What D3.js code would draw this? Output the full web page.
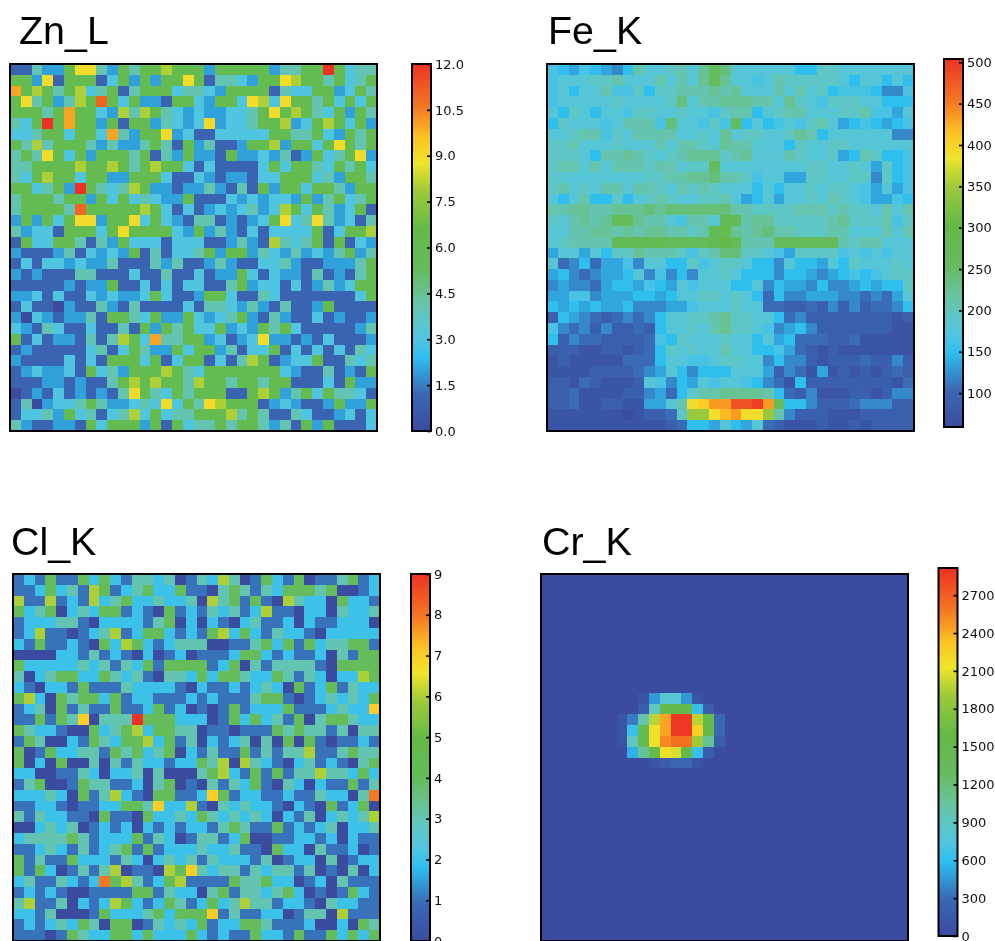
<!DOCTYPE html>
<html>
<head>
<meta charset="utf-8">
<script src="https://cdnjs.cloudflare.com/ajax/libs/d3/7.8.5/d3.min.js"></script>
<style>
html, body { margin: 0; padding: 0; background: #fff; overflow: hidden; }
svg { filter: blur(0.45px); }
.title { font-family: "Liberation Sans", Arial, sans-serif; font-size: 39.4px; fill: #000; }
.tick text { font-family: "DejaVu Sans", sans-serif; font-size: 13px; fill: #111; }
.tick line { stroke: #000; stroke-width: 1.6; }
</style>
</head>
<body>
<div id="chart"></div>
<script>
// one character per cell, rows top to bottom
// Zn_L and Cl_K: raw counts (a=10, b=11, c=12)
var znRows = [
"1142269942 6466866626 666624466c 6344",
"6629166613 6262669614 4326698664 6346",
"a686468346 1466634432 6666143366 2364",
"69462486b6 3622166326 6398396646 3636",
"66646a6632 8486432322 3346968643 6264",
"436c6a6626 1662432392 3346682368 6362",
"334663663a 4266923113 3333664463 2646",
"6484666424 2246416241 1266826636 9646",
"4649636266 6461426221 6223241263 4692",
"4466668668 6468663131 1113636643 6463",
"4368663662 2666311321 2213366634 2664",
"663462c643 4862212242 1416266366 4266",
"4666466263 6343226111 3232332624 6346",
"466664b666 6686313123 2342386364 2361",
"2626369926 6936321441 2123693494 2314",
"4233166636 9666632624 2131333361 3668",
"1633664142 6333133311 2421843461 6132",
"2111241323 2614133462 6624324232 4624",
"1313323224 1114241124 2113342112 2246",
"2121114411 1311411312 2631322141 2146",
"1111121226 1131313311 4623313124 2366",
"2231311323 2236311266 3114311111 1136",
"1311021142 1411113144 3242141126 1111",
"2032122416 6436226323 4621421131 2112",
"3214311311 4162646336 2326463111 1124",
"6131221414 863a446623 1239221213 1112",
"1211111341 3642263662 4133613131 3143",
"2111131316 6636136613 1486123361 1434",
"1232231634 2666864366 6666632114 1216",
"1112212114 6868664866 4664661113 1622",
"0121312121 4964364666 1168624636 4431",
"1402334642 2343936498 6661232112 6226",
"1334263413 4836344666 8464114311 2313",
"4211221636 6626163446 4664241626 1113"
];
var clRows = [
"1214114242 1332301326 3014214011 3412",
"1124231641 2342241103 4313244434 0012",
"6116121623 4223223063 4141063220 4221",
"4234023244 1210412132 3126110220 3223",
"1222331022 2213402021 0231120211 2220",
"1261101236 1244212146 2421322102 2222",
"2141121042 6421233300 1134241423 3441",
"0000221312 1020120111 2442121120 3144",
"4222223231 3241444412 4031333310 4444",
"3023442243 2310332424 4322431320 2264",
"2102214111 3222210211 2123204124 1322",
"4620434424 1221112121 1134410123 2324",
"1230413114 1124120101 4122241112 3227",
"1141437033 3944422201 4242314034 4322",
"4322100423 4624433011 0111434331 3033",
"1430021432 4462413021 2303040410 1121",
"4014223314 3423402131 1413133611 3433",
"4020400303 1322122436 0632102312 1034",
"2200113202 2303000346 2141413363 3242",
"1340014331 1203401031 3241032021 1413",
"2223204136 2104411274 1221121132 2038",
"1122101122 4437226103 2322102104 1240",
"3132211041 1042232432 3232021302 3236",
"0023230121 2021212213 4311412123 0223",
"2333343122 2413201331 2400112212 0211",
"1123213123 4141222322 3110422031 1201",
"4131142221 3202323132 2213012203 0122",
"4142013136 0110647323 3132331301 0302",
"2311321284 6312461111 4334220120 3111",
"1212100111 1441322034 1332342010 1421",
"3611302126 4212431242 3633122103 2211",
"2213000142 2234244471 3112201330 6111",
"1212324304 4013232412 2443111200 2043",
"1110143224 4242224212 1142214114 2424"
];
// Fe_K: base 36, in units of 15 counts
var feRows = [
"ba9ba98aec cdecfhgccc cccaaddccc cccc",
"bcccddeccc ececfhfccb cedddddcac caca",
"bcaccebbda ddeeefefcc cececdabbb a88b",
"bcccccdccc cdgceefffe ecfdcbdddc caaa",
"cadcaccbdd ccdccbdeea cdeecccdde bb9c",
"adcccbceee bgccbdbhac abcbdec9ab a9ab",
"ccdeebdcee eeccdcfcdd ccdfeacccc cc88",
"ddecccdccc eceedcfeec ccadccddcc cccc",
"dddcaeefed cdefffdefc ccedccd9ae daab",
"deececeeed eecddhcccc ccccddccdc 9dab",
"dccccccccd deeffgeedb cc99ddccdd 8dab",
"decdceecee dcededccca caccdcddcb 9c9b",
"caceaadacd edccddec9a c9ccdcedcb 99ba",
"eeffeefffg fggggggeed dddeeededd cece",
"dcefefhhfe ecbeeciief fdddddefdd debd",
"cceeffefef feedeijfef geedddeecc cece",
"cdeeeeiiii ihhhhikiee ehhhhhhede eccc",
"9cc9caddfe eedbdeggdd cb9ddddbcb cbcc",
"c78a799b8c caadbcddca a8caa9cadc ccdc",
"9a87899ac8 b8a8ccdcaa a8aa989aba bcdd",
"898879aa9b a9cbcccaac 8a998a889a 9aad",
"99bb8999aa 9accddcdca 7a88999887 879c",
"a9a9a99a88 899bcccdcc 7766768686 778a",
"6a98767878 accddefddc ca78666666 6656",
"b878686676 accdcefddc b89a866666 6655",
"a687766667 badcccdcca c9a7776675 5555",
"6665566567 adcdccecca ab97656555 5555",
"5655555777 accbbcddcc 8a88656667 6686",
"5555666678 9ca8aaaccc 9687595656 5676",
"665765556c b8a9cbccba 875a666666 6657",
"6675555668 97adeeffff ea76855566 5688",
"6675566559 9ceqrttwwx thaa866678 8866",
"5555555456 67dnnqstqq ne86665556 6666",
"5555555555 567aa9ca9c 7655565565 6666"
];
// Cr_K: base 36, in units of 90 counts
var crRows = [
"0000000000 0000000000 0000000000 0000",
"0000000000 0000000000 0000000000 0000",
"0000000000 0000000000 0000000000 0000",
"0000000000 0000000000 0000000000 0000",
"0000000000 0000000000 0000000000 0000",
"0000000000 0000000000 0000000000 0000",
"0000000000 0000000000 0000000000 0000",
"0000000000 0000000000 0000000000 0000",
"0000000000 0000000000 0000000000 0000",
"0000000000 0000000000 0000000000 0000",
"0000000000 0000000000 0000000000 0000",
"0000000001 5995100000 0000000000 0000",
"0000000002 ahhh720000 0000000000 0000",
"000000014b mrwwmh3000 0000000000 0000",
"000000017g orwwph3000 0000000000 0000",
"00000001ag osttlc2000 0000000000 0000",
"000000006c honh720000 0000000000 0000",
"0000000000 1233100000 0000000000 0000",
"0000000000 0000000000 0000000000 0000",
"0000000000 0000000000 0000000000 0000",
"0000000000 0000000000 0000000000 0000",
"0000000000 0000000000 0000000000 0000",
"0000000000 0000000000 0000000000 0000",
"0000000000 0000000000 0000000000 0000",
"0000000000 0000000000 0000000000 0000",
"0000000000 0000000000 0000000000 0000",
"0000000000 0000000000 0000000000 0000",
"0000000000 0000000000 0000000000 0000",
"0000000000 0000000000 0000000000 0000",
"0000000000 0000000000 0000000000 0000",
"0000000000 0000000000 0000000000 0000",
"0000000000 0000000000 0000000000 0000",
"0000000000 0000000000 0000000000 0000",
"0000000000 0000000000 0000000000 0000"
];

var znTicks = [0, 1.5, 3, 4.5, 6, 7.5, 9, 10.5, 12];
var feTicks = [100, 150, 200, 250, 300, 350, 400, 450, 500];
var clTicks = [0, 1, 2, 3, 4, 5, 6, 7, 8, 9];
var crTicks = [0, 300, 600, 900, 1200, 1500, 1800, 2100, 2400, 2700];

var width = 995, height = 941;
var nCells = 34;

// rainbow colormap
var cmapStops = [0, 0.1, 0.2, 0.25, 0.3, 0.36, 0.44, 0.55, 0.65, 0.73, 0.8, 0.88, 1];
var cmapColors = ["#3a4ba0", "#3a68b4", "#2cbef0", "#50c5e0", "#5dc6c8", "#68c3a0", "#64bc5c",
                  "#64ba45", "#9cc93a", "#efe52b", "#fdc324", "#f47b22", "#ee3124"];
var cmap = d3.scaleLinear().domain(cmapStops).range(cmapColors).interpolate(d3.interpolateRgb);

function decode(rows, unit) {
    return rows.map(function (r) {
        return r.replace(/ /g, "").split("").map(function (ch) {
            return parseInt(ch, 36) * unit;
        });
    });
}

var panels = [
    {name: "Zn_L", rows: decode(znRows, 1), domain: [0, 12], ticks: znTicks, fmt: d3.format(".1f"),
     x: 10, y: 64, barX: 412, barY: 64, barH: 367, tx: 19, ty: 44},
    {name: "Fe_K", rows: decode(feRows, 15), domain: [59, 504], ticks: feTicks, fmt: d3.format("d"),
     x: 547, y: 64, barX: 944, barY: 59, barH: 368, tx: 548, ty: 44},
    {name: "Cl_K", rows: decode(clRows, 1), domain: [0, 9], ticks: clTicks, fmt: d3.format("d"),
     x: 13, y: 574, barX: 411, barY: 574, barH: 367, tx: 11, ty: 555},
    {name: "Cr_K", rows: decode(crRows, 90), domain: [0, 2915], ticks: crTicks, fmt: d3.format("d"),
     x: 541, y: 574, barX: 938.5, barY: 568, barH: 368, tx: 542, ty: 555}
];

var mapSize = 367, barW = 19;

var svg = d3.select("#chart")
    .append("svg")
    .attr("width", width)
    .attr("height", height)
    .style("display", "block");

var defs = svg.append("defs");

panels.forEach(function (p, i) {
    var norm = d3.scaleLinear().domain(p.domain).range([0, 1]).clamp(true);
    var xs = d3.scaleBand().domain(d3.range(nCells)).range([p.x, p.x + mapSize]);
    var ys = d3.scaleBand().domain(d3.range(nCells)).range([p.y, p.y + mapSize]);

    svg.append("text")
        .attr("class", "title")
        .attr("x", p.tx)
        .attr("y", p.ty)
        .text(p.name);

    var g = svg.append("g").attr("shape-rendering", "crispEdges");
    p.rows.forEach(function (row, r) {
        g.selectAll(null)
            .data(row)
            .enter()
            .append("rect")
            .attr("x", function (d, c) { return xs(c); })
            .attr("y", ys(r))
            .attr("width", xs.bandwidth())
            .attr("height", ys.bandwidth())
            .style("fill", function (d) { return cmap(norm(d)); });
    });

    svg.append("rect")
        .attr("x", p.x)
        .attr("y", p.y)
        .attr("width", mapSize)
        .attr("height", mapSize)
        .style("fill", "none")
        .style("stroke", "#000")
        .style("stroke-width", 2);

    // colorbar
    var grad = defs.append("linearGradient")
        .attr("id", "bar" + i)
        .attr("x1", 0).attr("y1", 1)
        .attr("x2", 0).attr("y2", 0);
    grad.selectAll("stop")
        .data(cmapStops)
        .enter()
        .append("stop")
        .attr("offset", function (d) { return d; })
        .attr("stop-color", function (d, k) { return cmapColors[k]; });

    svg.append("rect")
        .attr("x", p.barX)
        .attr("y", p.barY)
        .attr("width", barW)
        .attr("height", p.barH)
        .style("fill", "url(#bar" + i + ")")
        .style("stroke", "#000")
        .style("stroke-width", 2);

    var barScale = d3.scaleLinear().domain(p.domain).range([p.barY + p.barH, p.barY]);
    var axis = d3.axisRight(barScale)
        .tickValues(p.ticks)
        .tickFormat(p.fmt)
        .tickSize(-4)
        .tickPadding(4);
    svg.append("g")
        .attr("transform", "translate(" + (p.barX + barW) + ",0)")
        .call(axis)
        .call(function (a) { a.select(".domain").remove(); });
});
</script>
</body>
</html>
